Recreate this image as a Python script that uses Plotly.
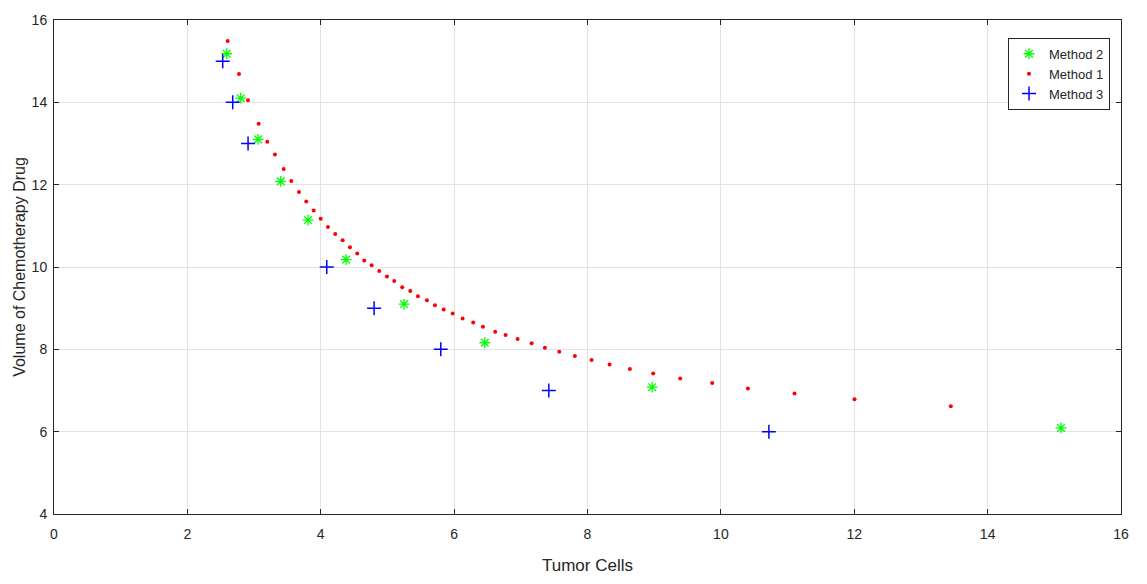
import plotly.graph_objects as go

# Method 1 (red dots)
m1_x = [2.604, 2.774, 2.909, 3.069, 3.198, 3.313, 3.444, 3.558, 3.673, 3.783,
        3.894, 3.999, 4.108, 4.217, 4.328, 4.438, 4.547, 4.652, 4.763, 4.877,
        4.993, 5.102, 5.222, 5.342, 5.457, 5.592, 5.712, 5.843, 5.978, 6.127,
        6.286, 6.432, 6.616, 6.772, 6.952, 7.162, 7.361, 7.576, 7.811, 8.061,
        8.331, 8.636, 8.985, 9.390, 9.870, 10.405, 11.105, 12.004, 13.448]
m1_y = [15.49, 14.69, 14.05, 13.48, 13.04, 12.73, 12.38, 12.09, 11.82, 11.59,
        11.37, 11.17, 10.97, 10.80, 10.65, 10.48, 10.33, 10.16, 10.04, 9.90,
        9.77, 9.66, 9.51, 9.42, 9.29, 9.19, 9.07, 8.97, 8.87, 8.75,
        8.65, 8.55, 8.43, 8.35, 8.25, 8.15, 8.04, 7.94, 7.84, 7.74,
        7.63, 7.52, 7.41, 7.29, 7.18, 7.05, 6.93, 6.79, 6.62]

# Method 2 (green asterisks)
m2_x = [2.59, 2.80, 3.06, 3.40, 3.81, 4.38, 5.25, 6.46, 8.97, 15.10]
m2_y = [15.18, 14.10, 13.10, 12.08, 11.14, 10.18, 9.10, 8.16, 7.08, 6.09]

# Method 3 (blue plus)
m3_x = [2.53, 2.68, 2.91, 4.09, 4.80, 5.80, 7.42, 10.72]
m3_y = [15, 14, 13, 10, 9, 8, 7, 6]

x_ticks = [0, 2, 4, 6, 8, 10, 12, 14, 16]
y_ticks = [4, 6, 8, 10, 12, 14, 16]

fig = go.Figure()
fig.add_trace(go.Scatter(
    x=m2_x, y=m2_y, mode="markers", name="Method 2",
    marker=dict(symbol="asterisk-open", size=9, color="#00ff00",
                line=dict(color="#00ff00", width=1.3))))
fig.add_trace(go.Scatter(
    x=m1_x, y=m1_y, mode="markers", name="Method 1",
    marker=dict(symbol="circle", size=4, color="#ff0000")))
fig.add_trace(go.Scatter(
    x=m3_x, y=m3_y, mode="markers", name="Method 3",
    marker=dict(symbol="cross-thin-open", size=10, color="#0000ff",
                line=dict(color="#0000ff", width=1.5))))

axis_common = dict(
    showline=True, linecolor="#262626", linewidth=1, mirror="ticks",
    ticks="inside", ticklen=5, tickcolor="#262626",
    showgrid=True, gridcolor="#e3e3e3", gridwidth=1,
    zeroline=False,
    tickfont=dict(family="Liberation Sans Narrow, Liberation Sans, Arial", size=14, color="#262626"),
)

fig.update_layout(
    width=1147, height=584,
    margin=dict(l=54, r=26, t=16, b=67),
    paper_bgcolor="white", plot_bgcolor="white",
    showlegend=True,
    legend=dict(
        x=0.9897, y=0.964, xanchor="right", yanchor="top",
        bgcolor="white", bordercolor="#262626", borderwidth=1,
        font=dict(family="Liberation Sans Narrow, Liberation Sans, Arial", size=13, color="#262626"),
        itemwidth=30, tracegroupgap=0,
    ),
    xaxis=dict(
        range=[0, 16], tickvals=x_ticks, ticktext=[str(v) for v in x_ticks],
        ticklabelstandoff=7,
        title=dict(text="Tumor Cells", standoff=18,
                   font=dict(family="Liberation Sans Narrow, Liberation Sans, Arial", size=17, color="#262626")),
        **axis_common),
    yaxis=dict(
        range=[4, 16], tickvals=y_ticks, ticktext=[str(v) for v in y_ticks],
        ticklabelstandoff=3,
        title=dict(text="Volume of Chemotherapy Drug", standoff=2,
                   font=dict(family="Liberation Sans, Arial", size=16, color="#262626")),
        **axis_common),
)

fig.write_html("out.html")
